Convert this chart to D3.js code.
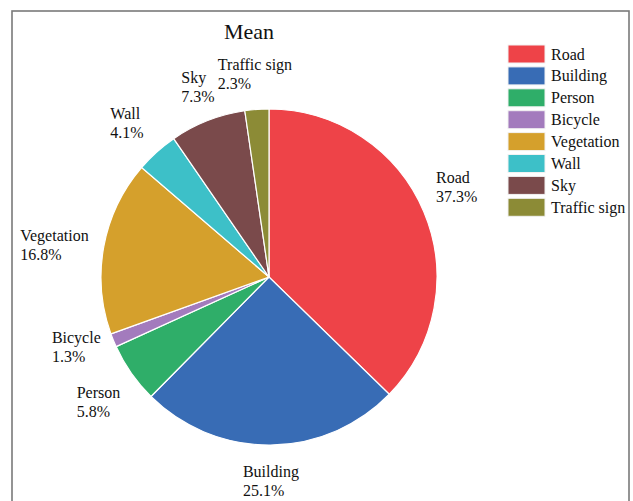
<!DOCTYPE html>
<html>
<head>
<meta charset="utf-8">
<script src="https://cdn.jsdelivr.net/npm/d3@7"></script>
<style>
  html, body { margin: 0; padding: 0; background: #fff; }
  svg { display: block; }
</style>
</head>
<body>
<svg id="chart" width="633" height="501"></svg>
<script>
// Class shares of the mean segmentation result (percent)
const categories = ["Road", "Building", "Person", "Bicycle", "Vegetation", "Wall", "Sky", "Traffic sign"];
const shares = [37.3, 25.1, 5.8, 1.3, 16.8, 4.1, 7.3, 2.3];
const colors = ["#ee4348", "#386cb5", "#2fae69", "#a37bbd", "#d5a02c", "#3dc0c8", "#7a4a4b", "#8c8b36"];
const chartTitle = "Mean";

// Hand-tuned pixel nudges for the data labels [dx, dy]
const labelNudge = [[-4, -10], [0, -5], [0, 5], [0, -9], [-10, 5], [-3, 0], [5, 3], [1, 3]];

const svg = d3.select("#chart");
const font = "'Liberation Serif', 'Times New Roman', serif";

// Frame
svg.append("rect")
  .attr("x", 12).attr("y", 11)
  .attr("width", 617).attr("height", 520)
  .attr("fill", "none")
  .attr("stroke", "#7a7a7a")
  .attr("stroke-width", 1.6);

// Title
svg.append("text")
  .attr("x", 249).attr("y", 39)
  .attr("text-anchor", "middle")
  .attr("font-family", font)
  .attr("font-size", 22)
  .attr("fill", "#111")
  .text(chartTitle);

const cx = 269, cy = 277, radius = 168, labelRadius = 208;

const data = categories.map((c, i) => ({ name: c, value: shares[i], color: colors[i], nudge: labelNudge[i] }));
const pie = d3.pie().sort(null).value(d => d.value);
const arc = d3.arc().innerRadius(0).outerRadius(radius);
const arcs = pie(data);

const g = svg.append("g").attr("transform", `translate(${cx},${cy})`);

g.selectAll("path.slice")
  .data(arcs)
  .join("path")
  .attr("class", "slice")
  .attr("d", arc)
  .attr("fill", d => d.data.color)
  .attr("stroke", "#fff")
  .attr("stroke-width", 1.2);

// Two-line labels, left aligned, block centred on a ring outside the pie
const labels = g.selectAll("g.label")
  .data(arcs)
  .join("g")
  .attr("class", "label");

labels.each(function(d) {
  const sel = d3.select(this);
  const mid = (d.startAngle + d.endAngle) / 2;
  const px = labelRadius * Math.sin(mid) + d.data.nudge[0];
  const py = -labelRadius * Math.cos(mid) + d.data.nudge[1];
  const t = sel.append("text")
    .attr("font-family", font)
    .attr("font-size", 16)
    .attr("fill", "#111");
  const l1 = t.append("tspan").attr("x", 0).attr("y", -3).text(d.data.name);
  const l2 = t.append("tspan").attr("x", 0).attr("y", 16).text(d.data.value.toFixed(1) + "%");
  const w = Math.max(l1.node().getComputedTextLength(), l2.node().getComputedTextLength());
  sel.attr("transform", `translate(${px - w / 2},${py})`);
});

// Legend
const legend = svg.append("g").attr("transform", "translate(508,45)");
const rowH = 21.9;
const rows = legend.selectAll("g.row")
  .data(data)
  .join("g")
  .attr("class", "row")
  .attr("transform", (d, i) => `translate(0,${i * rowH})`);

rows.append("rect")
  .attr("width", 37).attr("height", 18)
  .attr("fill", d => d.color)
  .attr("stroke", "#f2f2f2")
  .attr("stroke-width", 1);

rows.append("text")
  .attr("x", 43).attr("y", 14.5)
  .attr("font-family", font)
  .attr("font-size", 16)
  .attr("fill", "#111")
  .text(d => d.name);
</script>
</body>
</html>
